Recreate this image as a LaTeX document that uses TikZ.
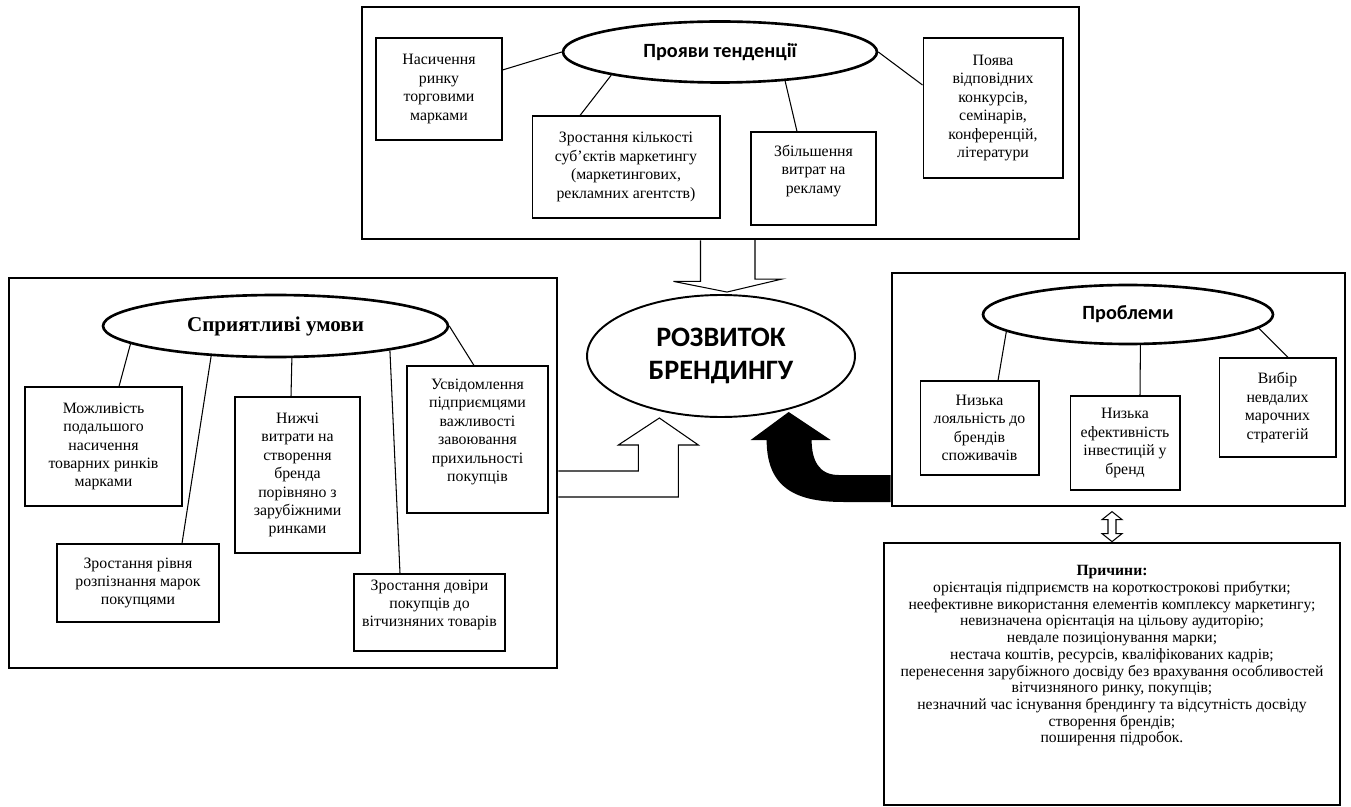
\documentclass[tikz,border=0pt]{standalone}
\usepackage{fontspec}
\setmainfont{Liberation Serif}
\newfontfamily\calibri{Carlito}
\usetikzlibrary{shapes.geometric,calc,positioning}

\begin{document}
\begin{tikzpicture}[x=0.02cm,y=-0.02cm,line width=0.6pt,
    frame node/.style={rectangle,draw,line width=1.6pt,inner sep=0pt},
    item node/.style={rectangle,draw,align=center,inner sep=1pt,font=\fontsize{9}{10.5}\selectfont},
    head node/.style={ellipse,draw,line width=1.5pt,inner sep=0pt,align=center,font=\calibri\bfseries\fontsize{11.5}{14}\selectfont},
    hollow arrow/.style={draw,line join=miter}]

  \useasboundingbox (0,0) rectangle (1351,807);

  % top block
  \node[frame node,minimum width=14.34cm,minimum height=4.64cm] (1) at (720.5,123) {};
  \node[head node,minimum width=6.28cm,minimum height=1.22cm] (2) at (720,52) {Прояви тенденції};
  \node[item node,minimum width=2.52cm,minimum height=2.04cm] (3) at (439,89) {Насичення\\ринку\\торговими\\марками};
  \node[item node,minimum width=3.76cm,minimum height=2.04cm] (4) at (626,167) {Зростання кількості\\суб’єктів маркетингу\\(маркетингових,\\рекламних агентств)};
  \node[item node,minimum width=2.5cm,minimum height=1.86cm] (5) at (813.5,178.5) {Збільшення\\витрат на\\рекламу\\\mbox{}};
  \node[item node,minimum width=2.8cm,minimum height=2.8cm] (6) at (993,108) {Поява\\відповідних\\конкурсів,\\семінарів,\\конференцій,\\літератури};

  \path
    ([yshift=0.38cm]3.east) edge (2.west)
    ([xshift=-0.92cm]4.north) edge (2.192)
    ([xshift=-0.33cm]5.north) edge (2.336)
    ([yshift=0.46cm]6.west) edge (2.east);

  % centre
  \node[ellipse,draw,line width=1.1pt,inner sep=0pt,minimum width=5.36cm,minimum height=2.44cm,align=center,
        font=\calibri\bfseries\fontsize{16}{19}\selectfont] (7) at (721,356) {РОЗВИТОК\\БРЕНДИНГУ};

  % left block
  \node[frame node,minimum width=10.96cm,minimum height=7.8cm] (8) at (283,473) {};
  \node[head node,minimum width=6.9cm,minimum height=1.24cm,font=\bfseries\fontsize{12}{14}\selectfont] (9) at (275.5,326) {Сприятливі умови};
  \node[item node,minimum width=3.14cm,minimum height=2.38cm] (10) at (103.5,446.5) {Можливість\\подальшого\\насичення\\товарних ринків\\марками};
  \node[item node,minimum width=3.24cm,minimum height=1.56cm] (11) at (138,583) {Зростання рівня\\розпізнання марок\\покупцями};
  \node[item node,minimum width=2.5cm,minimum height=3.12cm] (12) at (297.5,475) {Нижчі\\витрати на\\створення\\бренда\\порівняно з\\зарубіжними\\ринками};
  \node[item node,minimum width=2.82cm,minimum height=2.94cm] (13) at (477.5,439.5) {Усвідомлення\\підприємцями\\важливості\\завоювання\\прихильності\\покупців\\\mbox{}};
  \node[item node,minimum width=3.02cm,minimum height=1.54cm] (14) at (429.5,612.5) {Зростання довіри\\покупців до\\вітчизняних товарів\\\mbox{}};

  \path
    ([xshift=0.31cm]10.north) edge (9.187)
    ([xshift=0.88cm]11.north) edge (9.205)
    ([xshift=-0.13cm]12.north) edge (9.297)
    ([xshift=-0.59cm]14.north) edge (9.348)
    ([xshift=-0.07cm]13.north) edge (9.east);

  % right block
  \node[frame node,minimum width=9.06cm,minimum height=4.66cm] (15) at (1118.5,389.5) {};
  \node[head node,minimum width=5.8cm,minimum height=1.18cm] (16) at (1128,314.5) {Проблеми};
  \node[item node,minimum width=2.38cm,minimum height=1.88cm] (17) at (979.5,428) {Низька\\лояльність до\\брендів\\споживачів};
  \node[item node,minimum width=2.2cm,minimum height=1.88cm] (18) at (1125,443) {Низька\\ефективність\\інвестицій у\\бренд};
  \node[item node,minimum width=2.34cm,minimum height=1.98cm] (19) at (1277.5,407.5) {Вибір\\невдалих\\марочних\\стратегій};

  \path
    ([xshift=0.37cm]17.north) edge (16.188)
    ([xshift=0.3cm]18.north) edge (16.292)
    ([xshift=0.21cm]19.north) edge (16.354);

  % causes
  \node[frame node,minimum width=9.12cm,minimum height=5.24cm,align=center,
        font=\fontsize{8.9}{9.5}\selectfont] (20) at (1112,674)
    {\textbf{Причини:}\\
     орієнтація підприємств на короткострокові прибутки;\\
     неефективне використання елементів комплексу маркетингу;\\
     невизначена орієнтація на цільову аудиторію;\\
     невдале позиціонування марки;\\
     нестача коштів, ресурсів, кваліфікованих кадрів;\\
     перенесення зарубіжного досвіду без врахування особливостей\\
     вітчизняного ринку, покупців;\\
     незначний час існування брендингу та відсутність досвіду\\
     створення брендів;\\
     поширення підробок.\\[13pt]\mbox{}};

  % arrows into the centre
  \draw[hollow arrow] ($(1.south)+(-20,0)$) -- ++(0,41) -- ++(-27,0) -- ($(7.north)+(6,-2)$)
    -- ++(55,-13) -- ++(-27,0) -- ++(0,-41);
  \draw[hollow arrow] ($(8.east)+(0,-2)$) -- ++(80,0) -- ++(0,-26) -- ++(-20,0) -- ++(41,-27)
    -- ++(39,27) -- ++(-20,0) -- ++(0,52) -- ++(-120,0);
  \begin{scope}[shift={(15.west)}]
    \fill (0,85.5) -- (-52,85.5) .. controls (-72,85.5) and (-79,70.5) .. (-79,50.5)
      -- (-60,50.5) -- (-102,22.5) -- (-140,50.5) -- (-124,50.5)
      .. controls (-124,100.5) and (-92,112.5) .. (-47,112.5) -- (0,112.5) -- cycle;
  \end{scope}
  \draw[hollow arrow] (20.north) -- ++(-10,-8) -- ++(6,0) -- ++(0,-14) -- ++(-6,0) -- ++(10,-8)
    -- ++(10,8) -- ++(-6,0) -- ++(0,14) -- ++(6,0) -- cycle;

\end{tikzpicture}
\end{document}
